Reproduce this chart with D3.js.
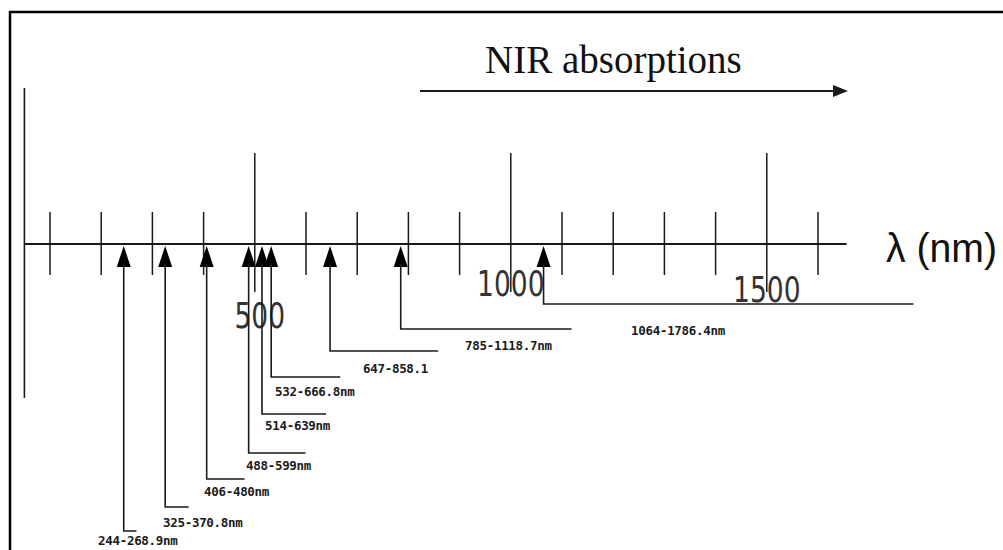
<!DOCTYPE html>
<html>
<head>
<meta charset="utf-8">
<script src="https://cdn.jsdelivr.net/npm/d3@7"></script>
<style>
  html, body { margin: 0; padding: 0; background: #fff; }
  svg { display: block; }
</style>
</head>
<body>
<svg id="chart" width="1003" height="550"></svg>
<script>
// Laser excitation wavelengths (nm) and the end of each Raman window (nm)
const excitation = [244, 325, 406, 488, 514, 532, 647, 785, 1064];
const ramanEnd   = [268.9, 370.8, 480, 599, 639, 666.8, 858.1, 1118.7, 1786.4];
const rangeLabels = ["244-268.9nm", "325-370.8nm", "406-480nm", "488-599nm",
                     "514-639nm", "532-666.8nm", "647-858.1", "785-1118.7nm", "1064-1786.4nm"];

// Wavelength axis ticks
const minorTicks = [100, 200, 300, 400, 600, 700, 800, 900, 1100, 1200, 1300, 1400, 1600];
const majorTicks = [500, 1000, 1500];
const majorLabels = ["500", "1000", "1500"];

// Layout: vertical level of each elbow and where its caption sits
const elbowY  = [531, 507, 479, 453, 414, 377, 351, 329, 304];
const captionX = [98, 163, 204, 246, 265, 275, 363, 465, 631];
const captionY = [545, 527, 496, 470, 430, 396, 373, 350, 335];
const majorLabelDx = [5, 0, 0];
const majorLabelY  = [328, 296, 302];

const svg = d3.select("#chart");
const ink = "#1a1a1a";

const x = d3.scaleLinear().domain([100, 1600]).range([50, 818]);
const axisY = 244;

// outer frame (top and left edges)
svg.append("path")
  .attr("d", "M10,550 V12 H1003")
  .attr("fill", "none").attr("stroke", "#000").attr("stroke-width", 2.5);

// baseline of the wavelength axis
svg.append("line")
  .attr("x1", x(50)).attr("x2", x(1656))
  .attr("y1", axisY).attr("y2", axisY)
  .attr("stroke", ink).attr("stroke-width", 1.8);

// origin post
svg.append("line")
  .attr("x1", x(50)).attr("x2", x(50))
  .attr("y1", 88).attr("y2", 398)
  .attr("stroke", ink).attr("stroke-width", 1.6);

// minor ticks
svg.append("g").selectAll("line").data(minorTicks).join("line")
  .attr("x1", d => x(d)).attr("x2", d => x(d))
  .attr("y1", axisY - 32).attr("y2", axisY + 31)
  .attr("stroke", ink).attr("stroke-width", 1.5);

// major ticks
svg.append("g").selectAll("line").data(majorTicks).join("line")
  .attr("x1", d => x(d)).attr("x2", d => x(d))
  .attr("y1", 153).attr("y2", 292)
  .attr("stroke", ink).attr("stroke-width", 1.5);

// major tick labels (tall, narrow lettering)
svg.append("g").selectAll("text").data(majorTicks).join("text")
  .attr("transform", (d, i) => `translate(${x(d) + majorLabelDx[i]},${majorLabelY[i]}) scale(0.82,1)`)
  .attr("text-anchor", "middle")
  .attr("font-family", "'Liberation Sans Narrow', 'DejaVu Sans Condensed', 'Liberation Sans', sans-serif")
  .attr("font-weight", 300)
  .attr("font-size", 36)
  .attr("fill", "#333")
  .text((d, i) => majorLabels[i]);

// axis title
svg.append("text")
  .attr("x", 886).attr("y", 262)
  .attr("font-family", "'Liberation Sans', Arial, sans-serif")
  .attr("font-size", 41)
  .attr("textLength", 111)
  .attr("lengthAdjust", "spacingAndGlyphs")
  .attr("fill", "#111")
  .text("λ (nm)");

// NIR banner and arrow
svg.append("text")
  .attr("x", 485).attr("y", 73)
  .attr("font-family", "'Liberation Serif', 'Times New Roman', serif")
  .attr("font-size", 39)
  .attr("fill", "#111")
  .text("NIR absorptions");
svg.append("line")
  .attr("x1", 420).attr("x2", 836).attr("y1", 91).attr("y2", 91)
  .attr("stroke", ink).attr("stroke-width", 1.8);
svg.append("path")
  .attr("d", "M833,85 L848,91 L833,97 Z")
  .attr("fill", ink);

// laser markers: arrowhead on the axis, drop line, elbow to the Raman end
const lasers = excitation.map((e, i) => ({ e, end: ramanEnd[i], label: rangeLabels[i], i }));
const g = svg.append("g").selectAll("g").data(lasers).join("g");

g.append("path")
  .attr("d", d => `M${x(d.e)},${axisY + 2} L${x(d.e) + 7},${axisY + 23} L${x(d.e) - 7},${axisY + 23} Z`)
  .attr("fill", "#000");

g.append("path")
  .attr("d", d => `M${x(d.e)},${axisY + 20} V${elbowY[d.i]} H${x(d.end)}`)
  .attr("fill", "none").attr("stroke", ink).attr("stroke-width", 1.6);

g.append("text")
  .attr("x", d => captionX[d.i])
  .attr("y", d => captionY[d.i])
  .attr("font-family", "'DejaVu Sans Mono', monospace")
  .attr("font-weight", "bold")
  .attr("font-size", 12.5)
  .attr("letter-spacing", -0.3)
  .attr("fill", "#1a1a1a")
  .text(d => d.label);
</script>
</body>
</html>
